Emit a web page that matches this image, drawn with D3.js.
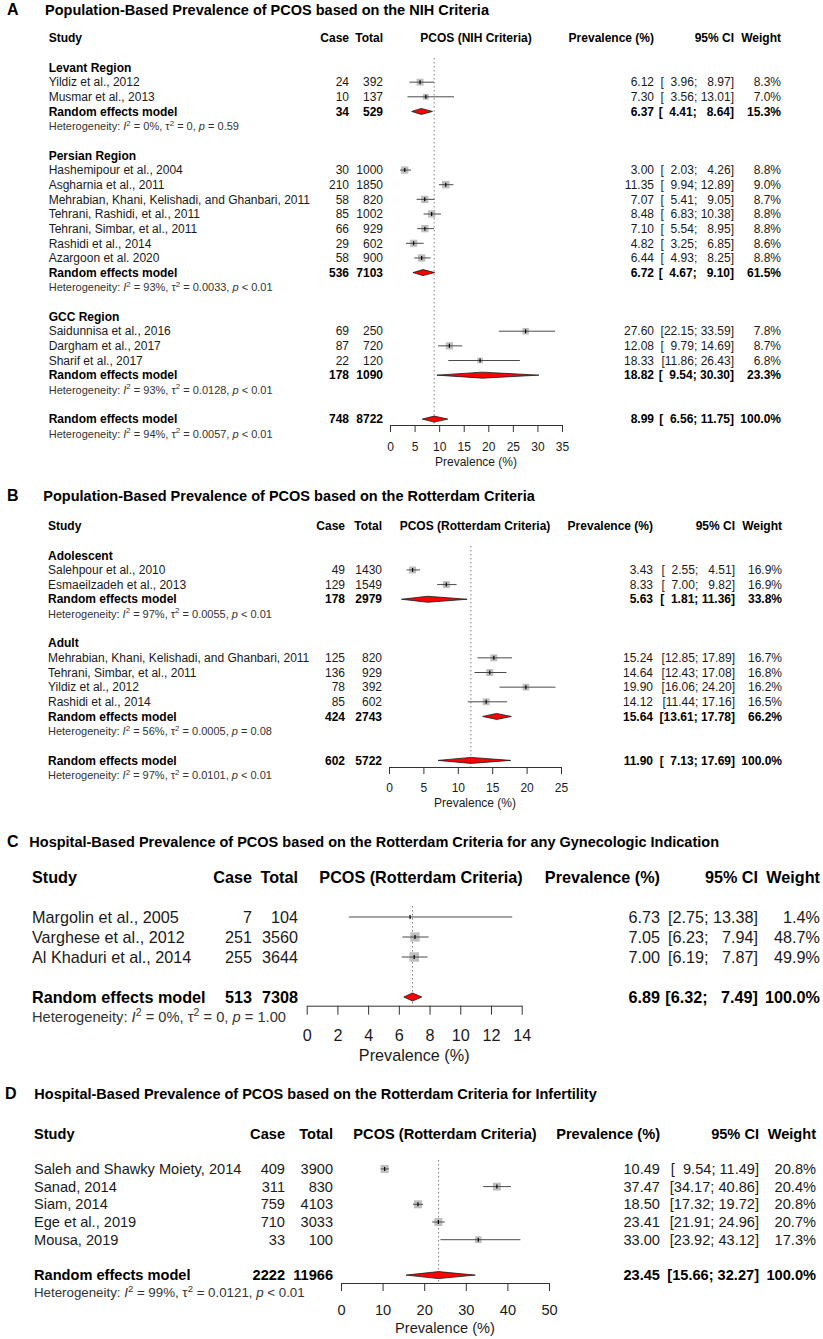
<!DOCTYPE html>
<html><head><meta charset="utf-8">
<script src="https://cdn.jsdelivr.net/npm/d3@7"></script>
<style>
body{margin:0;background:#fff}
svg text{font-family:"Liberation Sans",Arial,sans-serif;white-space:pre;fill:#1a1a1a}
</style>
</head><body>
<script>
// ---------- Panel A: NIH criteria ----------
const groupsA = ["Levant Region","Persian Region","GCC Region"];
const studyA = ["Yildiz et al., 2012","Musmar et al., 2013","Hashemipour et al., 2004","Asgharnia et al., 2011","Mehrabian, Khani, Kelishadi, and Ghanbari, 2011","Tehrani, Rashidi, et al., 2011","Tehrani, Simbar, et al., 2011","Rashidi et al., 2014","Azargoon et al. 2020","Saidunnisa et al., 2016","Dargham et al., 2017","Sharif et al., 2017"];
const groupOfA = [0,0,1,1,1,1,1,1,1,2,2,2];
const caseA = [24,10,30,210,58,85,66,29,58,69,87,22];
const totalA = [392,137,1000,1850,820,1002,929,602,900,250,720,120];
const prevA = [6.12,7.30,3.00,11.35,7.07,8.48,7.10,4.82,6.44,27.60,12.08,18.33];
const lowA = [3.96,3.56,2.03,9.94,5.41,6.83,5.54,3.25,4.93,22.15,9.79,11.86];
const highA = [8.97,13.01,4.26,12.89,9.05,10.38,8.95,6.85,8.25,33.59,14.69,26.43];
const weightA = [8.3,7.0,8.8,9.0,8.7,8.8,8.8,8.6,8.8,7.8,8.7,6.8];
const subCaseA = [34,536,178], subTotalA = [529,7103,1090];
const subPrevA = [6.37,6.72,18.82], subLowA = [4.41,4.67,9.54], subHighA = [8.64,9.10,30.30];
const subWeightA = [15.3,61.5,23.3];
const subI2A = ["0%","93%","93%"], subTau2A = ["0","0.0033","0.0128"], subPA = ["= 0.59","< 0.01","< 0.01"];
const overallA = {cases:748,total:8722,est:8.99,low:6.56,high:11.75,weight:100.0,i2:"94%",tau2:"0.0057",p:"< 0.01"};
const ticksA = [0,5,10,15,20,25,30,35];

// ---------- Panel B: Rotterdam, population ----------
const groupsB = ["Adolescent","Adult"];
const studyB = ["Salehpour et al., 2010","Esmaeilzadeh et al., 2013","Mehrabian, Khani, Kelishadi, and Ghanbari, 2011","Tehrani, Simbar, et al., 2011","Yildiz et al., 2012","Rashidi et al., 2014"];
const groupOfB = [0,0,1,1,1,1];
const caseB = [49,129,125,136,78,85];
const totalB = [1430,1549,820,929,392,602];
const prevB = [3.43,8.33,15.24,14.64,19.90,14.12];
const lowB = [2.55,7.00,12.85,12.43,16.06,11.44];
const highB = [4.51,9.82,17.89,17.08,24.20,17.16];
const weightB = [16.9,16.9,16.7,16.8,16.2,16.5];
const subCaseB = [178,424], subTotalB = [2979,2743];
const subPrevB = [5.63,15.64], subLowB = [1.81,13.61], subHighB = [11.36,17.78];
const subWeightB = [33.8,66.2];
const subI2B = ["97%","56%"], subTau2B = ["0.0055","0.0005"], subPB = ["< 0.01","= 0.08"];
const overallB = {cases:602,total:5722,est:11.90,low:7.13,high:17.69,weight:100.0,i2:"97%",tau2:"0.0101",p:"< 0.01"};
const ticksB = [0,5,10,15,20,25];

// ---------- Panel C: hospital, gynecologic ----------
const studyC = ["Margolin et al., 2005","Varghese et al., 2012","Al Khaduri et al., 2014"];
const caseC = [7,251,255];
const totalC = [104,3560,3644];
const prevC = [6.73,7.05,7.00];
const lowC = [2.75,6.23,6.19];
const highC = [13.38,7.94,7.87];
const weightC = [1.4,48.7,49.9];
const overallC = {cases:513,total:7308,est:6.89,low:6.32,high:7.49,weight:100.0,i2:"0%",tau2:"0",p:"= 1.00"};
const ticksC = [0,2,4,6,8,10,12,14];

// ---------- Panel D: hospital, infertility ----------
const studyD = ["Saleh and Shawky Moiety, 2014","Sanad, 2014","Siam, 2014","Ege et al., 2019","Mousa, 2019"];
const caseD = [409,311,759,710,33];
const totalD = [3900,830,4103,3033,100];
const prevD = [10.49,37.47,18.50,23.41,33.00];
const lowD = [9.54,34.17,17.32,21.91,23.92];
const highD = [11.49,40.86,19.72,24.96,43.12];
const weightD = [20.8,20.4,20.8,20.7,17.3];
const overallD = {cases:2222,total:11966,est:23.45,low:15.66,high:32.27,weight:100.0,i2:"99%",tau2:"0.0121",p:"< 0.01"};
const ticksD = [0,10,20,30,40,50];

// ---------- drawing ----------
const svg = d3.select("body").append("svg").attr("width",823).attr("height",1339);
svg.append("rect").attr("width",823).attr("height",1339).attr("fill","#fff");
const f2 = d3.format(".2f");

function buildStudies(names, gOf, cs, tot, est, lo, hi, w){
  return names.map((n,i)=>({name:n, group:gOf?gOf[i]:0, cases:cs[i], total:tot[i], est:est[i], low:lo[i], high:hi[i], weight:w[i]}));
}
function buildGroups(labels, cs, tot, est, lo, hi, w, i2, t2, p){
  return labels.map((l,i)=>({label:l, sub:{cases:cs[i], total:tot[i], est:est[i], low:lo[i], high:hi[i], weight:w[i], i2:i2[i], tau2:t2[i], p:p[i]}}));
}

function drawPanel(P){
  const g = svg.append("g");
  const x = d3.scaleLinear().domain(P.domain).range(P.range);
  const yRow = r => P.top + r*P.step;
  const fs = P.fs;
  function txt(xp, yp, s, anchor, bold, size){
    return g.append("text").attr("x",xp).attr("y",yp).attr("dy","0.35em")
      .attr("text-anchor",anchor).attr("font-size",size||fs)
      .attr("font-weight",bold?"bold":"normal").style("fill",bold?"#000":"#1a1a1a").text(s);
  }
  // title
  g.append("text").attr("x",P.letterX).attr("y",P.titleY).attr("font-size",P.letterFs).attr("font-weight","bold").style("fill","#000").text(P.letter);
  g.append("text").attr("x",P.titleX).attr("y",P.titleY).attr("font-size",P.titleFs).attr("font-weight","bold").style("fill","#000").text(P.title);
  // header
  const hy = yRow(0), hfs = P.hfs;
  txt(P.studyX, hy, "Study", "start", true, hfs);
  txt(P.caseR, hy, "Case", "end", true, hfs);
  txt(P.totalR, hy, "Total", "end", true, hfs);
  txt(P.plotHeaderX, hy, P.plotHeader, "middle", true, hfs);
  txt(P.prevR, hy, "Prevalence (%)", "end", true, hfs);
  txt(P.ciR, hy, "95% CI", "end", true, hfs);
  txt(P.weightR, hy, "Weight", "end", true, hfs);

  const all = P.studies.concat(P.groups.filter(d=>d.sub).map(d=>d.sub)).concat([P.overall]);
  const padN = Math.max(...all.map(d=>f2(d.low).length)), padM = Math.max(...all.map(d=>f2(d.high).length));
  const pad = (s,n)=>"  ".repeat(Math.max(0,n-s.length))+s;
  const ciStr = d => "[" + pad(f2(d.low),padN) + "; " + pad(f2(d.high),padM) + "]";
  const maxW = Math.max(...P.studies.map(d=>d.weight));

  function values(d, y, bold){
    txt(P.caseR, y, String(d.cases), "end", bold);
    txt(P.totalR, y, String(d.total), "end", bold);
    txt(P.prevR, y, f2(d.est), "end", bold);
    txt(P.ciR, y, ciStr(d), "end", bold);
    txt(P.weightR, y, d.weight.toFixed(1)+"%", "end", bold);
  }
  function diamond(d, y){
    const h = P.diaH/2;
    g.append("path").attr("d", `M${x(d.low)},${y}L${x(d.est)},${y-h}L${x(d.high)},${y}L${x(d.est)},${y+h}Z`)
      .attr("fill","#ff0000").attr("stroke","#1a1a1a").attr("stroke-width",0.8);
  }
  function het(d, y){
    const hf = P.hetFs, sh = hf*0.4;
    const t = g.append("text").attr("x",P.studyX).attr("y",y).attr("dy","0.35em").attr("font-size",hf).style("fill","#333");
    t.append("tspan").text("Heterogeneity: ");
    t.append("tspan").attr("font-style","italic").text("I");
    t.append("tspan").attr("dy",-sh).attr("font-size",hf*0.72).text("2");
    t.append("tspan").attr("dy",sh).text(" = "+d.i2+", τ");
    t.append("tspan").attr("dy",-sh).attr("font-size",hf*0.72).text("2");
    t.append("tspan").attr("dy",sh).text(" = "+d.tau2+", ");
    t.append("tspan").attr("font-style","italic").text("p");
    t.append("tspan").text(" "+d.p);
  }
  function studyMark(d, y){
    const s = Math.max(1, P.boxMax*d.weight/maxW);
    const cx = x(d.est);
    const inside = x(d.low) >= cx - s/2 && x(d.high) <= cx + s/2;
    g.append("rect").attr("x",cx-s/2).attr("y",y-s/2).attr("width",s).attr("height",s).attr("fill", inside?"#cfcfcf":"#bfbfbf");
    g.append("line").attr("x1",x(d.low)).attr("x2",x(d.high)).attr("y1",y).attr("y2",y)
      .attr("stroke", inside?"#fff":"#4a4a4a").attr("stroke-width",1);
    g.append("line").attr("x1",cx).attr("x2",cx).attr("y1",y-2).attr("y2",y+2)
      .attr("stroke", inside?"#fff":"#000").attr("stroke-width",1.2);
  }

  // reference dotted line
  g.append("line").attr("x1",x(P.overall.est)).attr("x2",x(P.overall.est)).attr("y1",P.dotTop).attr("y2",P.axisY)
    .attr("stroke","#808080").attr("stroke-width",1).attr("stroke-dasharray","1.5,2.5");

  let r = 2;
  P.groups.forEach((grp,gi)=>{
    if(grp.label){ txt(P.studyX, yRow(r), grp.label, "start", true); r++; }
    P.studies.filter(d=>d.group===gi).forEach(d=>{
      const y = yRow(r);
      txt(P.studyX, y, d.name, "start", false);
      values(d, y, false);
      studyMark(d, y);
      r++;
    });
    if(grp.sub){
      const y = yRow(r);
      txt(P.studyX, y, "Random effects model", "start", true);
      values(grp.sub, y, true);
      diamond(grp.sub, y);
      r++;
      het(grp.sub, yRow(r)); r++;
    }
    r++;
  });
  const yo = yRow(r);
  txt(P.studyX, yo, "Random effects model", "start", true);
  values(P.overall, yo, true);
  diamond(P.overall, yo);
  het(P.overall, yRow(r+1));

  // axis
  const ax = g.append("g").attr("transform",`translate(0,${P.axisY})`)
    .call(d3.axisBottom(x).tickValues(P.ticks).tickSize(P.tickLen).tickSizeOuter(0).tickFormat(d3.format("d")));
  ax.select(".domain").attr("stroke","#333");
  ax.selectAll(".tick line").attr("stroke","#333");
  ax.selectAll(".tick text").attr("y",P.tickLabelY-P.axisY).attr("dy","0.35em")
    .attr("font-size",P.axisFs).attr("font-family",null).style("fill","#1a1a1a");
  txt((P.range[0]+P.range[1])/2, P.xlabelY, "Prevalence (%)", "middle", false, P.axisFs);
}

drawPanel({
  letter:"A", letterX:7, letterFs:16, titleX:45, titleY:15, titleFs:14.5,
  title:"Population-Based Prevalence of PCOS based on the NIH Criteria",
  top:38.2, step:14.65, fs:12, hfs:12, hetFs:11, axisFs:12,
  studyX:48.7, caseR:349, totalR:383, plotHeaderX:476, plotHeader:"PCOS (NIH Criteria)",
  prevR:654, ciR:734, weightR:781,
  domain:[0,35], range:[390,562], ticks:ticksA,
  axisY:425, tickLen:7, tickLabelY:447, xlabelY:461.5, dotTop:58, boxMax:7.5, diaH:6,
  studies: buildStudies(studyA, groupOfA, caseA, totalA, prevA, lowA, highA, weightA),
  groups: buildGroups(groupsA, subCaseA, subTotalA, subPrevA, subLowA, subHighA, subWeightA, subI2A, subTau2A, subPA),
  overall: overallA
});
drawPanel({
  letter:"B", letterX:7, letterFs:16, titleX:43.3, titleY:501, titleFs:14.5,
  title:"Population-Based Prevalence of PCOS based on the Rotterdam Criteria",
  top:526, step:14.65, fs:12, hfs:12, hetFs:11, axisFs:12,
  studyX:48, caseR:345, totalR:382, plotHeaderX:475, plotHeader:"PCOS (Rotterdam Criteria)",
  prevR:653, ciR:735, weightR:782,
  domain:[0,25], range:[389,561], ticks:ticksB,
  axisY:767, tickLen:7, tickLabelY:788, xlabelY:803, dotTop:546, boxMax:7, diaH:6,
  studies: buildStudies(studyB, groupOfB, caseB, totalB, prevB, lowB, highB, weightB),
  groups: buildGroups(groupsB, subCaseB, subTotalB, subPrevB, subLowB, subHighB, subWeightB, subI2B, subTau2B, subPB),
  overall: overallB
});
drawPanel({
  letter:"C", letterX:7, letterFs:16, titleX:29.3, titleY:847, titleFs:14.5,
  title:"Hospital-Based Prevalence of PCOS based on the Rotterdam Criteria for any Gynecologic Indication",
  top:877, step:20, fs:16.2, hfs:16.2, hetFs:14.7, axisFs:16.2,
  studyX:32, caseR:252, totalR:298, plotHeaderX:421, plotHeader:"PCOS (Rotterdam Criteria)",
  prevR:660, ciR:758, weightR:820,
  domain:[0,14], range:[306.7,521.7], ticks:ticksC,
  axisY:1005.7, tickLen:9, tickLabelY:1035, xlabelY:1055, dotTop:906, boxMax:9.5, diaH:8,
  studies: buildStudies(studyC, null, caseC, totalC, prevC, lowC, highC, weightC),
  groups: [{label:null, sub:null}],
  overall: overallC
});
drawPanel({
  letter:"D", letterX:5, letterFs:16, titleX:34.3, titleY:1099, titleFs:14.5,
  title:"Hospital-Based Prevalence of PCOS based on the Rotterdam Criteria for Infertility",
  top:1133.5, step:17.7, fs:14.6, hfs:14.6, hetFs:13.3, axisFs:14.6,
  studyX:34, caseR:285, totalR:333, plotHeaderX:445, plotHeader:"PCOS (Rotterdam Criteria)",
  prevR:660, ciR:759, weightR:816,
  domain:[0,50], range:[341,549], ticks:ticksD,
  axisY:1283, tickLen:8, tickLabelY:1310, xlabelY:1328, dotTop:1160, boxMax:8, diaH:7,
  studies: buildStudies(studyD, null, caseD, totalD, prevD, lowD, highD, weightD),
  groups: [{label:null, sub:null}],
  overall: overallD
});
</script>
</body></html>
